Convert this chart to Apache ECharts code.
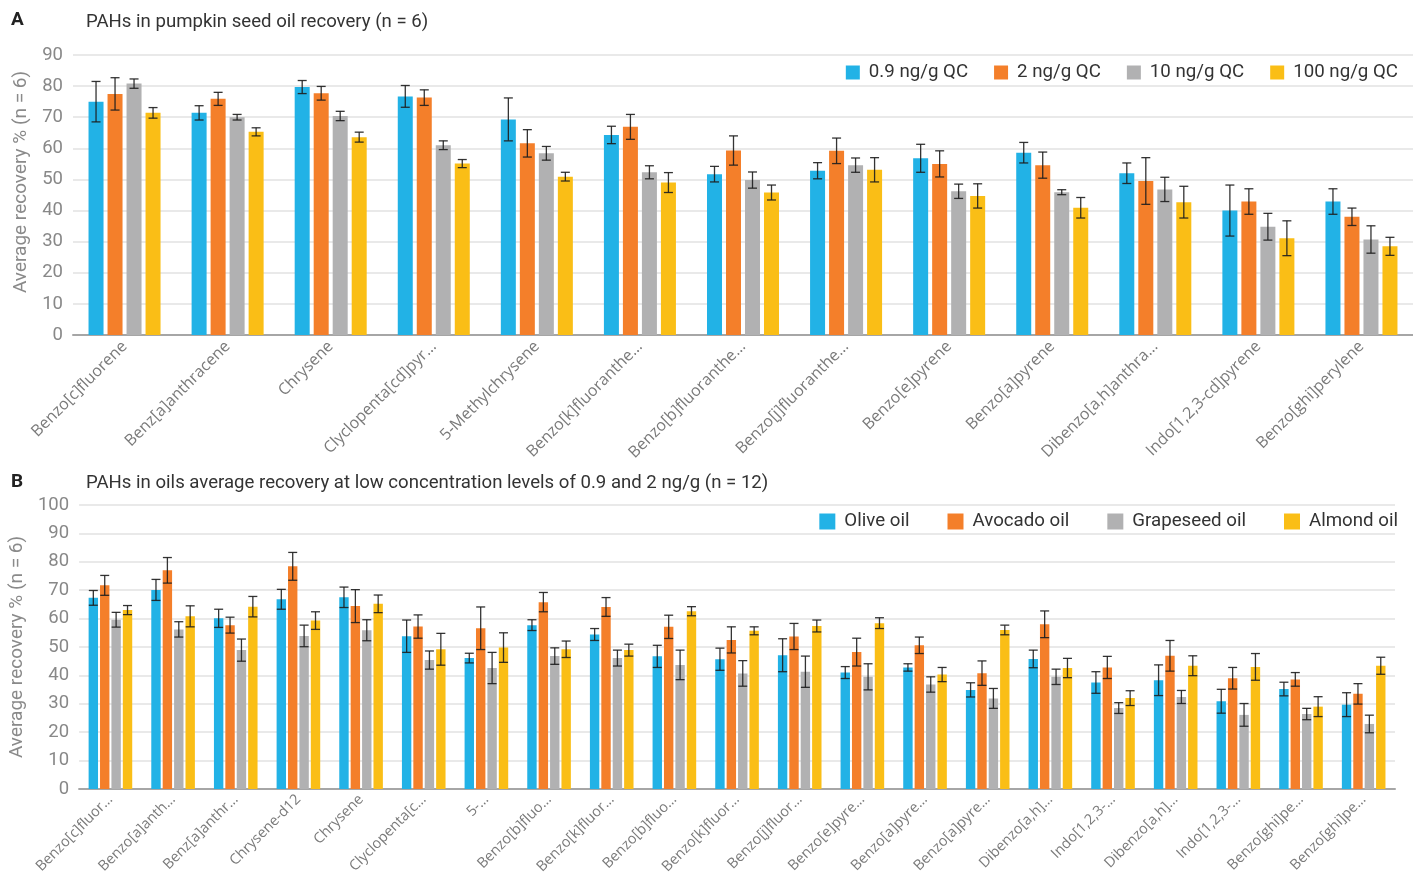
<!DOCTYPE html>
<html>
<head>
<meta charset="utf-8">
<title>PAH recovery</title>
<script src="https://cdn.jsdelivr.net/npm/echarts@6/dist/echarts.min.js"></script>
<style>
  html, body { margin: 0; padding: 0; background: #fff; }
  #chart { width: 1413px; height: 884px; }
</style>
</head>
<body>
<div id="chart"></div>
<script>
// Panel A: pumpkin seed oil, four QC levels (mean recovery %, ± SD)
const categoriesA = [
  'Benzo[c]fluorene', 'Benz[a]anthracene', 'Chrysene', 'Clyclopenta[cd]pyr…',
  '5-Methylchrysene', 'Benzo[k]fluoranthe…', 'Benzo[b]fluoranthe…', 'Benzo[j]fluoranthe…',
  'Benzo[e]pyrene', 'Benzo[a]pyrene', 'Dibenzo[a,h]anthra…', 'Indo[1,2,3-cd]pyrene',
  'Benzo[ghi]perylene'
];
const seriesNamesA = ['0.9 ng/g QC', '2 ng/g QC', '10 ng/g QC', '100 ng/g QC'];
const qc09 = [75, 71.4, 79.7, 76.7, 69.3, 64.3, 51.7, 52.8, 56.8, 58.6, 52, 40, 42.9];
const qc09Err = [6.5, 2.3, 2.1, 3.5, 6.9, 2.8, 2.5, 2.6, 4.5, 3.3, 3.3, 8.2, 4.1];
const qc2 = [77.5, 75.9, 77.7, 76.3, 61.6, 66.9, 59.3, 59.2, 55.0, 54.6, 49.5, 42.9, 38];
const qc2Err = [5.2, 2.1, 2.2, 2.5, 4.4, 4, 4.7, 4.1, 4.2, 4.2, 7.5, 4.1, 2.8];
const qc10 = [80.8, 70, 70.4, 61, 58.4, 52.3, 49.8, 54.6, 46.2, 45.9, 46.8, 34.8, 30.7];
const qc10Err = [1.5, 0.9, 1.5, 1.4, 2.2, 2.1, 2.6, 2.3, 2.3, 0.8, 3.9, 4.3, 4.4];
const qc100 = [71.4, 65.3, 63.6, 55.1, 50.9, 49, 45.8, 53.1, 44.7, 40.9, 42.7, 31.1, 28.5];
const qc100Err = [1.7, 1.3, 1.6, 1.3, 1.4, 3.2, 2.4, 3.9, 3.9, 3.3, 5.1, 5.6, 2.9];

// Panel B: four oils at low spike levels (n = 12)
const categoriesB = [
  'Benzo[c]fluor…', 'Benzo[a]anth…', 'Benz[a]anthr…', 'Chrysene-d12', 'Chrysene',
  'Clyclopenta[c…', '5-…', 'Benzo[b]fluo…', 'Benzo[k]fluor…', 'Benzo[b]fluo…',
  'Benzo[k]fluor…', 'Benzo[j]fluor…', 'Benzo[e]pyre…', 'Benzo[a]pyre…', 'Benzo[a]pyre…',
  'Dibenzo[a,h]…', 'Indo[1,2,3-…', 'Dibenzo[a,h]…', 'Indo[1,2,3-…', 'Benzo[ghi]pe…',
  'Benzo[ghi]pe…'
];
const seriesNamesB = ['Olive oil', 'Avocado oil', 'Grapeseed oil', 'Almond oil'];
const olive = [67.3, 70.1, 60.1, 66.8, 67.5, 53.8, 46.1, 57.7, 54.4, 46.7, 45.7, 47.1, 41, 42.8, 34.9, 45.8, 37.5, 38.3, 30.9, 35.2, 29.7];
const oliveErr = [2.6, 3.7, 3.2, 3.5, 3.6, 5.7, 1.7, 1.9, 2.1, 3.9, 3.9, 5.8, 2.1, 1.3, 2.5, 3.1, 3.8, 5.4, 4.2, 2.4, 4.2];
const avocado = [71.7, 77, 57.7, 78.4, 64.4, 57.2, 56.6, 65.8, 64.1, 57.1, 52.5, 53.7, 48.2, 50.6, 40.8, 58, 42.8, 46.9, 39, 38.6, 33.5];
const avocadoErr = [3.5, 4.5, 2.8, 4.9, 5.8, 4.1, 7.5, 3.4, 3.3, 4.1, 4.6, 4.6, 4.9, 2.9, 4.3, 4.7, 3.9, 5.4, 3.8, 2.4, 3.6];
const grapeseed = [59.6, 56.2, 48.9, 53.9, 55.9, 45.4, 42.6, 46.8, 46.1, 43.7, 40.7, 41.3, 39.5, 36.8, 31.9, 39.5, 28.5, 32.4, 26.1, 26.4, 22.9];
const grapeseedErr = [2.6, 2.7, 3.9, 3.8, 3.7, 3.2, 5.5, 2.9, 2.8, 5.2, 4.5, 5.5, 4.6, 2.7, 3.5, 2.7, 1.9, 2.3, 4, 2, 3.1];
const almond = [63, 60.8, 64.2, 59.3, 65.2, 49.2, 49.8, 49.2, 48.9, 62.6, 55.7, 57.4, 58.4, 40.3, 56, 42.6, 32, 43.4, 43, 29, 43.4];
const almondErr = [1.6, 3.7, 3.6, 3.1, 3.1, 5.6, 5.2, 2.9, 2.1, 1.6, 1.4, 2.1, 1.9, 2.5, 1.7, 3.4, 2.6, 3.5, 4.7, 3.5, 3];

const colors = ['#22B2E6', '#F47F2A', '#B1B1B2', '#FABE16'];
const FONT = 'Roboto, "Noto Sans", sans-serif';

// bar geometry per panel (px)
const panelA = { barW: 15, gap: 4 };
const panelB = { barW: 9.4, gap: 2 };

function barSeries(name, values, idx, axisIndex, geo) {
  return {
    name: name,
    type: 'bar',
    xAxisIndex: axisIndex,
    yAxisIndex: axisIndex,
    data: values,
    barWidth: geo.barW,
    barGap: (geo.gap / geo.barW * 100).toFixed(1) + '%',
    itemStyle: { color: colors[idx] },
    emphasis: { disabled: true },
    z: 2
  };
}

function errorSeries(name, values, errs, idx, axisIndex, geo) {
  const offset = (idx - 1.5) * (geo.barW + geo.gap);
  const capHalf = 4.5;
  return {
    name: name + ' SD',
    type: 'custom',
    xAxisIndex: axisIndex,
    yAxisIndex: axisIndex,
    data: values.map((v, i) => [i, v, errs[i]]),
    z: 5,
    silent: true,
    renderItem: function (params, api) {
      const i = api.value(0), v = api.value(1), e = api.value(2);
      const hi = api.coord([i, v + e]);
      const lo = api.coord([i, v - e]);
      const x = hi[0] + offset;
      const style = { stroke: '#1e1e1e', lineWidth: 1.3, opacity: 0.9 };
      return {
        type: 'group',
        children: [
          { type: 'line', shape: { x1: x, y1: hi[1], x2: x, y2: lo[1] }, style: style },
          { type: 'line', shape: { x1: x - capHalf, y1: hi[1], x2: x + capHalf, y2: hi[1] }, style: style },
          { type: 'line', shape: { x1: x - capHalf, y1: lo[1], x2: x + capHalf, y2: lo[1] }, style: style }
        ]
      };
    }
  };
}

function yAxis(gridIndex, max, namePadding) {
  return {
    type: 'value',
    gridIndex: gridIndex,
    min: 0,
    max: max,
    interval: 10,
    name: 'Average recovery % (n = 6)',
    nameLocation: 'middle',
    nameGap: 42,
    nameTextStyle: { fontFamily: FONT, fontSize: 19, color: '#8a8a8a', padding: namePadding },
    axisLine: { show: false },
    axisTick: { show: false },
    axisLabel: { fontFamily: FONT, fontSize: 18.5, color: '#888', margin: 10 },
    splitLine: { lineStyle: { color: '#e2e2e2', width: 1.5 } }
  };
}

function xAxis(gridIndex, cats, fontSize, margin) {
  return {
    type: 'category',
    gridIndex: gridIndex,
    data: cats,
    axisTick: { show: false },
    axisLine: { lineStyle: { color: '#a6a6a6', width: 2 } },
    axisLabel: {
      interval: 0,
      rotate: 45,
      margin: margin,
      fontFamily: '"Open Sans", sans-serif',
      fontSize: fontSize,
      color: '#7a7a7a'
    }
  };
}

const seriesA = [qc09, qc2, qc10, qc100];
const errsA = [qc09Err, qc2Err, qc10Err, qc100Err];
const seriesB = [olive, avocado, grapeseed, almond];
const errsB = [oliveErr, avocadoErr, grapeseedErr, almondErr];

const series = [];
seriesNamesA.forEach((n, i) => series.push(barSeries(n, seriesA[i], i, 0, panelA)));
seriesNamesB.forEach((n, i) => series.push(barSeries(n, seriesB[i], i, 1, panelB)));
seriesNamesA.forEach((n, i) => series.push(errorSeries(n, seriesA[i], errsA[i], i, 0, panelA)));
seriesNamesB.forEach((n, i) => series.push(errorSeries(n, seriesB[i], errsB[i], i, 1, panelB)));

const panelTitle = { fontFamily: FONT, fontSize: 18.6, fontWeight: 'normal', color: '#333' };
const panelLetter = { fontFamily: FONT, fontSize: 19, fontWeight: 'bold', color: '#222' };

const option = {
  animation: false,
  backgroundColor: '#fff',
  color: colors,
  title: [
    { text: 'A', left: 11, top: 11, textStyle: panelLetter, padding: 0 },
    { text: 'PAHs in pumpkin seed oil recovery (n = 6)', left: 86, top: 13, textStyle: panelTitle, padding: 0 },
    { text: 'B', left: 11, top: 473, textStyle: panelLetter, padding: 0 },
    { text: 'PAHs in oils average recovery at low concentration levels of 0.9 and 2 ng/g (n = 12)', left: 86, top: 474, textStyle: panelTitle, padding: 0 }
  ],
  legend: [
    {
      data: seriesNamesA,
      right: 15,
      top: 63,
      padding: 0,
      itemWidth: 14,
      itemHeight: 14,
      itemGap: 26,
      icon: 'rect',
      selectedMode: false,
      textStyle: { fontFamily: FONT, fontSize: 18.7, color: '#333', padding: [0, 0, 0, 4] }
    },
    {
      data: seriesNamesB,
      right: 15,
      top: 512,
      padding: 0,
      itemWidth: 16,
      itemHeight: 16,
      itemGap: 38,
      icon: 'rect',
      selectedMode: false,
      textStyle: { fontFamily: FONT, fontSize: 18.7, color: '#333', padding: [0, 0, 0, 4] }
    }
  ],
  grid: [
    { left: 73, top: 55, right: 0, height: 280 },
    { left: 73, top: 505, right: 18, height: 284 }
  ],
  xAxis: [xAxis(0, categoriesA, 16, 9), xAxis(1, categoriesB, 14.5, 8)],
  yAxis: [yAxis(0, 90, [0, 0, 0, 26]), yAxis(1, 100, [0, 0, 0, 0])],
  series: series
};

const chart = echarts.init(document.getElementById('chart'), null, { renderer: 'canvas' });
chart.setOption(option);
</script>
</body>
</html>
